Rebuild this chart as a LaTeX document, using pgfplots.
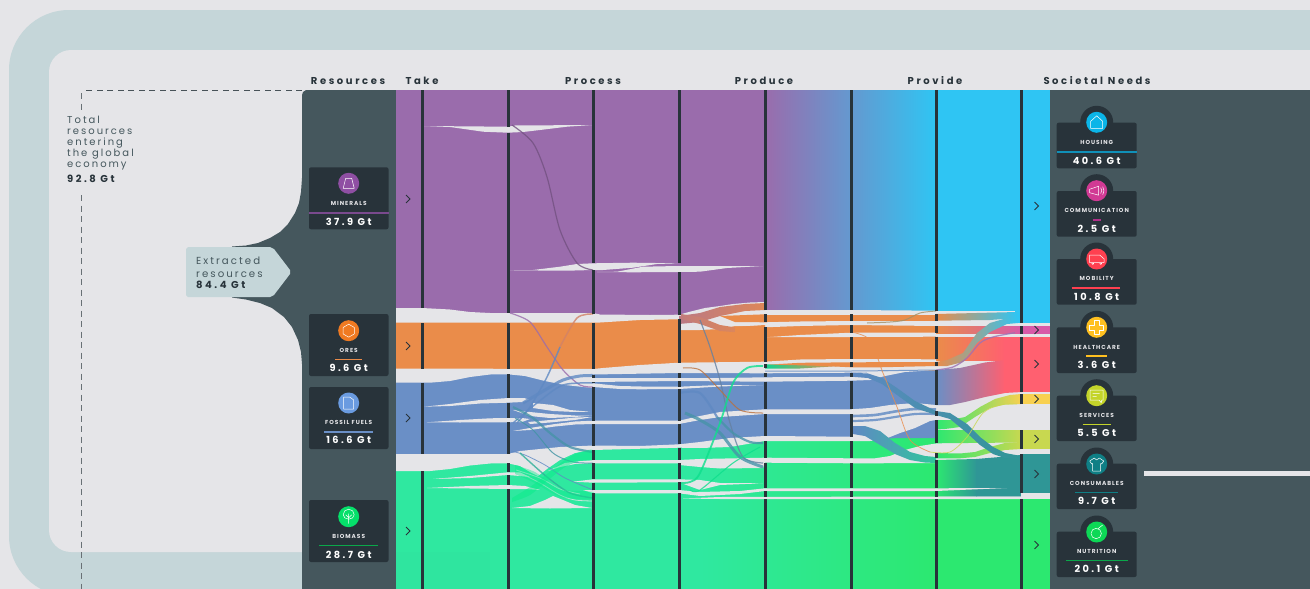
\documentclass[border=0pt]{standalone}
\usepackage{pgfplots}
\pgfplotsset{compat=1.18}
\usepackage{fontspec}
\setmainfont{Poppins}
\newfontfamily\hdf[LetterSpace=26]{Poppins}
\newfontfamily\txf[LetterSpace=20]{Poppins}
\newfontfamily\labf[LetterSpace=17]{Poppins}
\newfontfamily\valf[LetterSpace=25]{Poppins}
\definecolor{bg}{HTML}{E5E5E8}
\definecolor{band}{HTML}{C5D6D9}
\definecolor{slate}{HTML}{45575D}
\definecolor{ink}{HTML}{28333A}
\definecolor{purp}{HTML}{9A6CAC}
\definecolor{oran}{HTML}{EA8C4A}
\definecolor{blu}{HTML}{6A8FC6}
\definecolor{grn}{HTML}{2FE8A0}
\definecolor{grnr}{HTML}{2CE870}
\definecolor{cyn}{HTML}{2FC5F3}
\definecolor{redd}{HTML}{FF6070}
\definecolor{pnk}{HTML}{D85AA8}
\definecolor{yel}{HTML}{F8D050}
\definecolor{lim}{HTML}{C8D850}
\definecolor{tel}{HTML}{2F9696}
\definecolor{blud}{HTML}{5F89C3}
\definecolor{brgt}{HTML}{08EC8A}
\definecolor{iA}{HTML}{8F4FA3}
\definecolor{iB}{HTML}{EF7A22}
\definecolor{iC}{HTML}{6A9BE0}
\definecolor{iD}{HTML}{05E06A}
\definecolor{iE}{HTML}{0BB5E8}
\definecolor{iF}{HTML}{D13A94}
\definecolor{iG}{HTML}{FF4050}
\definecolor{iH}{HTML}{FFC020}
\definecolor{iI}{HTML}{C4D42A}
\definecolor{iJ}{HTML}{0F7F85}
\definecolor{iK}{HTML}{0DD856}
\definecolor{uA}{HTML}{7A4A8E}
\definecolor{uD}{HTML}{0AA84A}
\definecolor{uE}{HTML}{1090B8}
\definecolor{uF}{HTML}{B0308A}
\newcommand\poly[2]{\addplot[fill=#1,draw=none] coordinates {#2};}
\newcommand\grad[3]{\addplot[left color=#1,right color=#2,draw=none] coordinates {#3};}
\newcommand\W[1]{\addplot[fill=bg,draw=none] coordinates {#1};}
\newcommand\rib[3]{\addplot[smooth,draw=#2,line width=#1pt,draw opacity=.8] coordinates {#3};}
\newcommand\vl[3]{\addplot[draw=ink,line width=3pt] coordinates {(#1,#2)(#1,#3)};}
\newcommand\chev[2]{\draw[ink,line width=.8pt] (axis cs:#1,#2) ++(-2pt,4pt) -- ++(4pt,-4pt) -- ++(-4pt,-4pt);}
\newcommand\card[4]{\fill[ink,rounded corners=2pt] (axis cs:#1,#3) rectangle (axis cs:#2,#4);}
\newcommand\lab[3]{\node[anchor=center,inner sep=0,yshift=-.7pt,text=bg,font=\fontsize{5.8}{6}\labf\bfseries] at (axis cs:#1,#2) {#3};}
\newcommand\val[3]{\node[anchor=center,inner sep=0,text=white,font=\fontsize{9.8}{10}\valf\bfseries] at (axis cs:#1,#2) {#3};}
\newcommand\und[4]{\addplot[draw=#4,line width=1.3pt] coordinates {(#1,#3)(#2,#3)};}
\newcommand\hd[2]{\node[anchor=base,inner sep=0,text=ink,font=\fontsize{10}{10}\hdf\bfseries] at (axis cs:#1,84) {#2};}
\newcommand\ico[4]{\fill[#3] (axis cs:#1,#2) circle[radius=10.5pt];
  \begin{scope}[shift={(axis cs:#1,#2)}]\draw[white,line width=.5pt,line join=round] #4;\end{scope}}
\begin{document}
\begin{tikzpicture}
\begin{axis}[width=1310pt,height=589pt,scale only axis,xmin=0,xmax=1310,ymin=0,ymax=589,y dir=reverse,hide axis,enlargelimits=false]
% ---- page
\poly{bg}{(0,0)(1310,0)(1310,589)(0,589)}
\fill[band,rounded corners=60pt] (axis cs:9,10) rectangle (axis cs:1500,596);
\fill[bg,rounded corners=22pt] (axis cs:49,50) rectangle (axis cs:1500,552);
% ---- panels
\poly{slate}{(302,95)(303,92)(306,90)(396,90)(396,589)(302,589)(302,364)(301,352)(298,340)(292,327)(284,317)(272,308)(260,303)(246,299.5)(232,297.5)(232,246.5)(246,245.5)(258,243)(270,238)(280,232)(288,224)(295,213)(299,203)(301,192)(302,178)}
\poly{slate}{(1050,90)(1310,90)(1310,589)(1050,589)}
\poly{band}{(188,247)(270,247)(274,249)(290,270)(290,274)(274,295)(270,297)(188,297)(186,295)(186,249)}
% ---- stocks and flows, base layers
\poly{bg}{(396,90)(1050,90)(1050,589)(396,589)}
\poly{grn}{(396,430)(701,430)(701,589)(396,589)}
\grad{grn}{grnr}{(700,430)(936,430)(936,589)(700,589)}
\poly{blu}{(396,369)(936,369)(936,438)(851,438.5)(765,438.5)(720,441)(679,446)(593,447)(550,452)(508,458)(396,458)}
\poly{oran}{(396,315)(936,315)(936,371)(396,371)}
\poly{purp}{(396,90)(766,90)(766,316)(396,316)}
\grad{purp}{cyn}{(765,90)(936,90)(936,312)(765,312)}
\poly{bg}{(936,311)(1021,311)(1021,499)(936,499)}
\poly{cyn}{(936,90)(1050,90)(1050,311)(936,311)}
\poly{cyn}{(1015,311)(1050,311)(1050,323)(1015,323)}
\poly{grnr}{(936,499)(1050,499)(1050,589)(936,589)}
% flows that end at the needs column
\grad{oran}{cyn}{(936,314)(1017,312)(1017,318)(990,320)(936,320.7)}
\grad{oran}{pnk}{(936,326)(1021,326)(1021,333.7)(936,333.7)}
\grad{oran}{redd}{(936,337)(1005,337)(1005,360)(936,360)}
\poly{redd}{(1004,337)(1022,337)(1022,360)(1004,360)}
\grad{blu}{redd}{(936,370)(960,368)(985,362.5)(1005,360)(1005,393)(985,397)(965,402)(950,405)(936,405)}
\poly{redd}{(1004,359.5)(1022,359)(1022,392)(1004,393)}
\grad{grnr}{yel}{(936,420)(950,420)(965,417)(980,407)(995,399)(1010,395)(1021,394)(1021,404)(1005,404.5)(990,408)(975,417)(960,427)(945,429)(936,429.5)}
\grad{grnr}{lim}{(936,430)(1021,430)(1021,442.5)(936,443.3)}
\grad{grnr}{lim}{(936,453)(960,453.5)(975,452)(990,447)(1005,443)(1021,442)(1021,449)(1005,450)(990,453)(975,457)(960,458.3)(936,458.3)}
\grad{grnr}{tel}{(936,460)(977,459)(977,496.7)(936,496.7)}
\poly{tel}{(976,459)(1000,457)(1021,455)(1021,496.7)(976,496.7)}
\W{(936,488.3)(1007,488)(936,491)}
% needs column
\poly{cyn}{(1021,90)(1050,90)(1050,323)(1021,323)}
\poly{pnk}{(1021,326)(1050,326)(1050,334)(1021,334)}
\poly{redd}{(1021,337)(1050,337)(1050,392)(1021,392)}
\poly{yel}{(1021,394)(1050,394)(1050,404)(1021,404)}
\poly{lim}{(1021,430)(1050,430)(1050,449)(1021,449)}
\poly{tel}{(1021,454)(1050,454)(1050,493)(1021,493)}
\poly{grnr}{(1021,499)(1050,499)(1050,589)(1021,589)}
\poly{bg}{(1021,493)(1050,493)(1050,499)(1021,499)}
% ---- gaps: purple
\W{(424,126)(508,126.7)(515,125.5)(592,125)(567,126.7)(540,130)(523,132)(508,132.7)(483,131.7)(450,127)}
\W{(510,270.3)(533,270)(560,266.7)(577,264)(593,263.3)(633,262.7)(678,263.3)(657,264)(633,267.7)(603,270)(593,270)(567,270.7)}
\W{(597,272)(617,271.7)(643,266.7)(678,266)(713,266)(763,266)(727,268)(700,271.7)(679,272)(633,272.3)}
% gap between purple and orange
\W{(396,308)(422,308)(450,309.5)(470,312)(490,313)(508,313)(593,313)(600,314.5)(650,315)(679,314.7)(690,311.7)(705,308)(720,306)(733,304)(750,302.5)(765,302)(765,327.3)(750,326)(735,326)(720,329)(700,330)(681,330)(679,319.3)(640,320)(600,322.5)(593,322.7)(396,322.7)}
\W{(765,310)(851,310)(936,310.7)(936,314)(851,314.3)(765,314.3)}
\W{(765,322.3)(800,321.5)(851,321)(936,321)(936,326)(851,325)(800,326)(765,327.3)}
\W{(767,337.2)(800,335)(851,332.7)(936,332.7)(936,336.7)(851,337)}
% gap between orange and blue
\W{(396,368.5)(593,369)(603,368)(640,365)(679,362.7)(765,361.7)(800,359.5)(851,359)(936,359.3)(936,370)(851,372.7)(765,373.3)(679,373)(593,374.5)(593,388)(565,385)(545,381)(525,376)(508,374.3)(490,374.5)(470,377)(450,381)(430,382.7)(396,382.7)}
\W{(593,378)(620,378)(679,378)(720,378)(765,377.3)(851,376.7)(851,373)(936,369)(936,370)(905,372)(885,376)(870,380)(851,380.7)(765,381.7)(679,381)(593,382)}
\W{(575,382)(593,383.3)(620,386)(650,386.7)(679,386.7)(720,385)(763,385)(720,386.5)(679,389)(640,389.3)(620,389)(593,387)(575,385)}
% wedges inside blue
\W{(424,406.7)(450,404)(480,400)(508,398)(524,398)(529,399.5)(523,402)(508,402.7)(480,403.5)(450,406)}
\W{(426.7,422.3)(460,420)(490,418.3)(508,418)(522,418)(530,419)(522,422)(508,422.3)(490,422.3)(460,422.5)}
\W{(533,403)(553,405)(570,410)(590,411.7)(575,412)(553,411)(533,408)}
\W{(513,410)(530,412)(550,414)(575,415.5)(592,415.5)(575,417)(550,418)(530,416)}
\W{(528,422)(550,420)(575,417.5)(592,417)(575,420)(550,422.5)(530,424)}
\W{(513,431)(530,428)(555,424)(575,421.5)(593,420.7)(679,420.7)(700,416)(720,412)(765,409.3)(851,409.3)(851,414)(765,414)(720,417)(700,420)(679,424)(593,424)(575,424.5)(555,426.5)(530,430)}
% gap between blue and green
\W{(396,454)(508,454)(520,451)(540,449)(560,447)(593,445.5)(640,446)(679,444.3)(700,442)(730,438)(765,436)(851,436.7)(851,441)(765,441)(730,447)(700,448)(679,447.7)(593,450)(575,453)(560,460)(547,469)(538,476)(530,472)(520,466)(508,463.3)(490,463.5)(470,465.5)(450,469)(430,471)(396,471)}
% right of Produce: open area below blue
\W{(851,409.3)(870,408)(890,405)(915,403)(936,405)(936,420)(930,421)(915,428)(900,433)(885,439)(870,441)(851,441)}
\W{(851,458.3)(875,458.3)(890,456)(905,450)(920,446)(936,443.5)(936,463)(900,463)(880,463.3)(851,463.3)}
% stripes inside green
\W{(548,471)(565,463)(580,461)(593,460)(679,460)(700,459)(765,457.7)(851,458.3)(851,463.3)(765,462.7)(763,468)(720,468.5)(700,467)(679,465)(679,463.3)(593,463.3)(575,464)(560,467)}
\W{(433,479)(470,476)(508,472.3)(520,472.5)(530,477)(520,476)(508,475)(470,478)}
\W{(427,488)(470,486)(508,485)(525,486)(540,490)(525,489)(508,489)(470,488.5)}
\W{(512,508)(530,506)(545,500)(553,496)(563,500)(575,505)(592,508)(550,508.5)}
\W{(573,481.7)(593,479.3)(679,479.3)(700,480)(720,483)(763,483.3)(720,485)(700,490)(679,482.3)(593,482.7)}
\W{(583,490)(593,490)(679,490)(700,492)(740,491)(765,488.3)(851,488.3)(936,488.3)(936,491)(851,491)(765,491)(740,494)(700,496)(679,493.3)(593,493.3)}
\W{(683,498.5)(720,497)(851,496.7)(1021,496.7)(1021,499)(851,499)(720,499)}
\rib{.8}{bg}{(520,473)(540,483)(560,495)(575,500)(593,501)}
\rib{.8}{bg}{(516,470)(540,478)(560,489)(580,494)}
% ---- curved flows between Take and Process and Produce
\rib{1.2}{purp!75!black}{(512,125)(533,143)(547,177)(560,230)(577,263)(593,270)}
\rib{1.2}{purp}{(510,313)(530,322)(547,347)(563,370)(580,385)(593,387)}
\rib{1.5}{oran!70!purp}{(593,314)(577,318)(560,347)}
\rib{1.5}{blud}{(560,347)(547,377)(530,407)(517,423)}
\rib{3}{blud}{(523,403)(545,390)(563,380)(580,376)(593,375.5)}
\rib{1.5}{blud}{(513,423)(537,403)(563,385)(593,383)}
\rib{2.2}{tel!60!blu}{(513,407)(533,418)(550,433)(570,447)(593,452)}
\rib{1}{tel!70!blu}{(515,418)(533,430)(553,453)(573,462)(593,463)}
\rib{.8}{blud}{(511,451)(525,455)(545,465)(565,478)(593,490)}
\rib{1.4}{tel!70!grn}{(520,453)(547,477)(570,493)(593,498)}
\addplot[fill=brgt,fill opacity=.5,draw=none,smooth] coordinates {(512,498)(530,487)(547,474)(565,460)(580,452)(593,450)(593,460)(580,461)(565,467)(547,481)(530,495)(512,502)};
\addplot[fill=brgt,fill opacity=.4,draw=none,smooth] coordinates {(515,465)(535,472)(550,483)(565,490)(593,492)(593,499)(565,498)(550,492)(535,483)(515,474)};
% ---- curved flows between Produce and Provide
\grad{purp!60!oran}{oran!85!purp}{(679,316)(700,313)(720,307)(745,304)(765,303)(765,310)(745,311)(720,316)(700,322)(679,324)}
\grad{purp!50!oran}{oran}{(681,314)(700,317)(720,325)(745,329)(765,330)(765,334)(745,333)(720,331)(700,324)(681,319)}
\poly{oran}{(720,316)(765,314.3)(765,322.3)(735,322)}
\poly{oran}{(735,327)(765,325)(765,340)(735,340)}
\rib{1.2}{purp!50!tel}{(700,320)(710,347)(720,380)(730,423)(743,457)(763,463)}
\rib{1}{oran!80!black}{(683,368)(700,370)(720,390)(740,410)(763,413)}
\rib{2.2}{blud}{(679,393)(700,393)(717,417)}
\rib{2.2}{tel!60!blu}{(717,417)(733,433)(750,442)(763,443)}
\rib{3}{tel!60!blu}{(685,413)(700,420)(720,433)(740,457)(763,467)}
\rib{1.8}{brgt!85!tel}{(679,483)(690,482)(700,473)(720,423)(733,383)(747,368)(763,366)}
\rib{1.1}{brgt!85!tel}{(690,490)(700,490)(733,463)(760,447)}
\grad{brgt!70!tel}{oran}{(765,364.5)(800,364)(840,366)(800,368.5)(765,368.5)}
\poly{oran}{(770,364.5)(800,362.8)(851,362.3)(936,362)(936,366)(880,367.3)(851,367.3)(825,366)}
\rib{1}{blud}{(765,371)(851,371)(936,370)}
% ---- flows right of Produce
\rib{2.6}{blud}{(853,416)(875,415)(895,411.5)(915,409)(936,409.5)}
\rib{2.2}{blud}{(853,421)(875,420)(895,417)(915,414)(936,414)}
\grad{blud}{tel!40!grn}{(853,426)(865,426)(880,431)(895,443)(910,452)(925,456)(936,457)(936,463)(925,462.5)(910,460)(895,454)(880,445)(865,436)(853,434)}
\grad{blud}{tel}{(851,372.7)(868,373.5)(882,378)(897,388)(915,401)(936,411)(950,413)(967,424)(980,437)(993,447)(1005,453)(1021,456)(1021,459.5)(1005,458)(993,454)(980,445)(967,433)(950,419)(936,415)(915,408)(897,395)(882,384)(868,378)(851,376.7)}
\grad{oran}{cyn}{(936,362)(947,360)(963,353)(977,333)(990,323)(1007,318)(1018,318)(1018,323)(1007,324)(990,332)(977,343)(963,362)(947,366)(936,366)}
\rib{1.3}{blud!50!pnk}{(936,370)(953,367)(967,358)(980,343)(993,337)(1015,332.7)}
\rib{.8}{oran}{(851,332)(870,340)(883,373)(897,407)(910,440)(930,452)}
\rib{.8}{lim}{(930,452)(950,452)(967,437)(983,413)(1000,405)(1017,404)}
\rib{1}{oran!60!tel}{(867,323)(890,322)(905,320)(920,313)(936,311)}
\addplot[fill=tel,fill opacity=.03,draw=none] coordinates {(396,552)(490,552)(490,589)(396,589)};
% ---- column rules
\vl{422.5}{90}{308}\vl{422.5}{323}{368.5}\vl{422.5}{382.7}{454}\vl{422.5}{471}{589}
\vl{508}{90}{126.7}\vl{508}{132.7}{313}\vl{508}{323}{368.5}\vl{508}{374.3}{398}\vl{508}{402.7}{418}\vl{508}{422.3}{454}\vl{508}{463.3}{472}\vl{508}{475}{485}\vl{508}{489}{589}
\vl{593.5}{90}{263.3}\vl{593.5}{270}{314}\vl{593.5}{322.7}{369}\vl{593.5}{374.5}{378}\vl{593.5}{382}{383.3}\vl{593.5}{387}{420.7}\vl{593.5}{424}{445.5}\vl{593.5}{450}{460}\vl{593.5}{463.3}{479.3}\vl{593.5}{482.7}{490}\vl{593.5}{493.3}{589}
\vl{679}{90}{263.3}\vl{679}{272}{314.7}\vl{679}{319.3}{362.7}\vl{679}{373}{378}\vl{679}{381}{386.7}\vl{679}{389}{420.7}\vl{679}{424}{444.3}\vl{679}{447.7}{460}\vl{679}{463.3}{479.3}\vl{679}{482.3}{490}\vl{679}{493.3}{589}
\vl{765}{90}{310}\vl{765}{314.3}{322.3}\vl{765}{327.3}{361.7}\vl{765}{364}{368}\vl{765}{373.3}{377.3}\vl{765}{381.7}{409.3}\vl{765}{414}{436}\vl{765}{441}{457.7}\vl{765}{462.7}{488.3}\vl{765}{491}{496.7}\vl{765}{499}{589}
\vl{851}{90}{310}\vl{851}{314.3}{321}\vl{851}{325}{332.7}\vl{851}{337}{359}\vl{851}{362.3}{367.3}\vl{851}{372.7}{376.7}\vl{851}{380.7}{409.3}\vl{851}{414}{436.7}\vl{851}{441}{458.3}\vl{851}{463.3}{488.3}\vl{851}{491}{496.7}\vl{851}{499}{589}
\vl{936}{90}{310.7}\vl{936}{314}{320.7}\vl{936}{326}{332.7}\vl{936}{336.7}{359.3}\vl{936}{362}{366}\vl{936}{370}{405}\vl{936}{411}{415.5}\vl{936}{420}{443.3}\vl{936}{453}{458.3}\vl{936}{460}{488.3}\vl{936}{491}{496.7}\vl{936}{499}{589}
\vl{1021.5}{90}{323}\vl{1021.5}{326}{334}\vl{1021.5}{337}{392}\vl{1021.5}{394}{404}\vl{1021.5}{430}{449}\vl{1021.5}{454}{493}\vl{1021.5}{499}{589}
% chevrons
\chev{408}{199}\chev{408}{346}\chev{408}{418}\chev{408}{531}
\chev{1036.5}{206}\chev{1036.5}{330}\chev{1036.5}{364}\chev{1036.5}{399}\chev{1036.5}{439}\chev{1036.5}{474}\chev{1036.5}{545}
% headers
\hd{348}{Resources}\hd{422}{Take}\hd{593}{Process}\hd{764}{Produce}\hd{935}{Provide}\hd{1097}{Societal Needs}
% dashed total line
\addplot[draw=ink!85!white,line width=.9pt,dash pattern=on 6pt off 4.5pt] coordinates {(302,90)(84,90)};
\addplot[draw=ink!70!white,line width=.9pt,dash pattern=on 6pt off 4.5pt] coordinates {(81,93)(81,110)};
\addplot[draw=ink!70!white,line width=.9pt,dash pattern=on 6pt off 4.5pt] coordinates {(81,195)(81,589)};
% side texts
\node[anchor=west,inner sep=0,text=slate,font=\fontsize{10}{11}\txf,align=left] at (axis cs:67,143.5) {Total\\resources\\entering\\the global\\economy};
\node[anchor=west,inner sep=0,text=ink,font=\fontsize{10}{11}\valf\bfseries] at (axis cs:67,179) {92.8 Gt};
\node[anchor=west,inner sep=0,text=slate,font=\fontsize{10.2}{12.8}\txf,align=left] at (axis cs:196,267) {Extracted\\resources};
\node[anchor=west,inner sep=0,text=ink,font=\fontsize{10}{11}\valf\bfseries] at (axis cs:196,285) {84.4 Gt};
\poly{bg}{(1144,471)(1310,471)(1310,476)(1144,476)}
% resource cards
\card{309}{388.5}{167.3}{229.3}\card{309}{388.5}{314}{376}\card{309}{388.5}{387}{449}\card{309}{388.5}{500}{562}
\ico{348.7}{183.3}{iA}{(-3pt,5pt)--(3pt,5pt)--(5.5pt,-5pt)--(-5.5pt,-5pt)--cycle}
\ico{348.7}{330.7}{iB}{(0pt,6.5pt)--(5.6pt,3.2pt)--(5.6pt,-3.2pt)--(0pt,-6.5pt)--(-5.6pt,-3.2pt)--(-5.6pt,3.2pt)--cycle}
\ico{348.7}{403}{iC}{(-5pt,6pt)--(1pt,6pt)--(5pt,3pt)--(5pt,-6pt)--(-5pt,-6pt)--cycle}
\ico{348.7}{516.7}{iD}{(0pt,-7pt)--(0pt,3pt) (-5.5pt,2pt) arc[start angle=180,end angle=0,radius=5.5pt] (5.5pt,2pt) arc[start angle=0,end angle=-180,x radius=5.5pt,y radius=4.5pt] (-3pt,2pt)--(0pt,-1pt)--(3pt,2pt)}
\lab{348.7}{203}{MINERALS}\lab{348.7}{349.7}{ORES}\lab{348.7}{421.7}{FOSSIL FUELS}\lab{348.7}{535.7}{BIOMASS}
\und{309}{388.5}{213}{uA}\und{335}{362}{359.3}{oran}\und{324}{372.7}{432}{blu}\und{319.3}{377.7}{545.7}{uD}
\val{348.7}{221.5}{37.9 Gt}\val{348.7}{368.3}{9.6 Gt}\val{348.7}{440.3}{16.6 Gt}\val{348.7}{554.7}{28.7 Gt}
% needs cards
\card{1056.7}{1136.7}{122.7}{168.3}\card{1056.7}{1136.7}{191}{236.7}\card{1056.7}{1136.7}{259}{304.7}\card{1056.7}{1136.7}{327.3}{373}\card{1056.7}{1136.7}{395.7}{441}\card{1056.7}{1136.7}{463.7}{509}\card{1056.7}{1136.7}{531.7}{577}
\fill[ink] (axis cs:1096.7,122.3) circle[radius=16.5pt];
\fill[ink] (axis cs:1096.7,190.7) circle[radius=16.5pt];
\fill[ink] (axis cs:1096.7,259) circle[radius=16.5pt];
\fill[ink] (axis cs:1096.7,327.3) circle[radius=16.5pt];
\fill[ink] (axis cs:1096.7,395.7) circle[radius=16.5pt];
\fill[ink] (axis cs:1096.7,464) circle[radius=16.5pt];
\fill[ink] (axis cs:1096.7,532) circle[radius=16.5pt];
\ico{1096.7}{122.3}{iE}{(0pt,6.5pt)--(6pt,1pt)--(6pt,-6pt)--(-6pt,-6pt)--(-6pt,1pt)--cycle}
\ico{1096.7}{190.7}{iF}{(-7pt,1.5pt)--(2pt,4.5pt)--(2pt,-4.5pt)--(-7pt,-2pt)--cycle (4pt,3pt) arc[start angle=40,end angle=-40,radius=4.5pt] (6pt,4pt) arc[start angle=35,end angle=-35,radius=7pt]}
\ico{1096.7}{259}{iG}{(-7pt,4pt)--(3pt,4pt)--(7.5pt,0pt)--(7.5pt,-3.5pt)--(-7pt,-3.5pt)--cycle (-4pt,-4.5pt) circle[radius=1pt] (4pt,-4.5pt) circle[radius=1pt]}
\ico{1096.7}{327.3}{iH}{(-2.5pt,7pt)--(2.5pt,7pt)--(2.5pt,2.5pt)--(7pt,2.5pt)--(7pt,-2.5pt)--(2.5pt,-2.5pt)--(2.5pt,-7pt)--(-2.5pt,-7pt)--(-2.5pt,-2.5pt)--(-7pt,-2.5pt)--(-7pt,2.5pt)--(-2.5pt,2.5pt)--cycle}
\ico{1096.7}{395.7}{iI}{(-6.5pt,5.5pt)--(6.5pt,5.5pt)--(6.5pt,-4.5pt)--(5pt,-4.5pt)--(4.5pt,-7pt)--(2.5pt,-4.5pt)--(-6.5pt,-4.5pt)--cycle (-4pt,2pt)--(3pt,2pt) (-4pt,-1pt)--(0pt,-1pt)}
\ico{1096.7}{464}{iJ}{(-2.5pt,6pt)--(-7pt,3pt)--(-5pt,0pt)--(-4pt,.5pt)--(-4pt,-7pt)--(4pt,-7pt)--(4pt,.5pt)--(5pt,0pt)--(7pt,3pt)--(2.5pt,6pt)--(0pt,4pt)--cycle}
\ico{1096.7}{532}{iK}{(-.5pt,-1.5pt) circle[radius=5.2pt] (1.5pt,3.5pt)--(6pt,7pt)}
\lab{1096.7}{141.7}{HOUSING}\lab{1096.7}{209.7}{COMMUNICATION}\lab{1096.7}{277.7}{MOBILITY}\lab{1096.7}{346.7}{HEALTHCARE}\lab{1096.7}{414.7}{SERVICES}\lab{1096.7}{482.7}{CONSUMABLES}\lab{1096.7}{550.7}{NUTRITION}
\und{1056.7}{1136.7}{152}{uE}\und{1092.7}{1101}{220}{uF}\und{1071.7}{1120}{288}{iG}\und{1086}{1107.3}{356}{iH}\und{1082.7}{1110.7}{424.3}{iI}\und{1075}{1118.3}{492.3}{iJ}\und{1066}{1127.7}{560.3}{uD}
\val{1096.7}{160.7}{40.6 Gt}\val{1096.7}{228.7}{2.5 Gt}\val{1096.7}{297.3}{10.8 Gt}\val{1096.7}{365.3}{3.6 Gt}\val{1096.7}{433.3}{5.5 Gt}\val{1096.7}{501.3}{9.7 Gt}\val{1096.7}{569.3}{20.1 Gt}
\end{axis}
\end{tikzpicture}
\end{document}
